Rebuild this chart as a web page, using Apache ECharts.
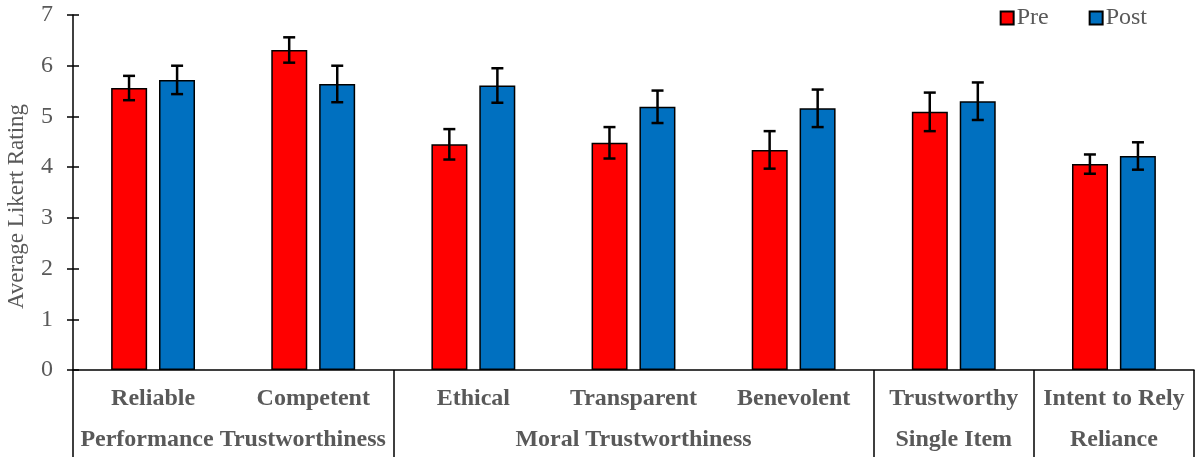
<!DOCTYPE html>
<html>
<head>
<meta charset="utf-8">
<script src="https://cdn.jsdelivr.net/npm/echarts@6/dist/echarts.min.js"></script>
<style>
  html, body { margin: 0; padding: 0; background: #fff; }
  #main { width: 1196px; height: 457px; }
</style>
</head>
<body>
<div id="main"></div>
<script>
const categories = ["Reliable", "Competent", "Ethical", "Transparent", "Benevolent", "Trustworthy", "Intent to Rely"];
const preValues = [5.56, 6.31, 4.45, 4.48, 4.34, 5.09, 4.06];
const postValues = [5.72, 5.64, 5.61, 5.19, 5.16, 5.30, 4.22];
const preErr = [0.24, 0.25, 0.30, 0.31, 0.37, 0.38, 0.19];
const postErr = [0.28, 0.36, 0.34, 0.32, 0.37, 0.37, 0.27];
const groupNames = ["Performance Trustworthiness", "Moral Trustworthiness", "Single Item", "Reliance"];
const groupBounds = [0, 2, 5, 6, 7];
const yTicks = [0, 1, 2, 3, 4, 5, 6, 7];

const FONT = "Liberation Serif";
const GREY = "#595959";

const chart = echarts.init(document.getElementById("main"));

// group label positions = middle of each span
const groupCenters = groupNames.map((n, i) => (groupBounds[i] + groupBounds[i + 1]) / 2);

function errItems(vals, errs) {
  return vals.map((v, i) => [i, v - errs[i], v + errs[i]]);
}

function errRender(side) {
  return function (params, api) {
    const i = api.value(0);
    const lo = api.coord([i, api.value(1)]);
    const hi = api.coord([i, api.value(2)]);
    const band = api.size([1, 0])[0];
    const x = lo[0] + side * band * 0.15;
    const cap = 6;
    const style = { stroke: "#000", lineWidth: 2.5 };
    return {
      type: "group",
      children: [
        { type: "line", shape: { x1: x, y1: lo[1], x2: x, y2: hi[1] }, style: style },
        { type: "line", shape: { x1: x - cap, y1: hi[1], x2: x + cap, y2: hi[1] }, style: style },
        { type: "line", shape: { x1: x - cap, y1: lo[1], x2: x + cap, y2: lo[1] }, style: style }
      ]
    };
  };
}

const option = {
  animation: false,
  textStyle: { fontFamily: FONT },
  grid: { left: 73, right: 2, top: 15, bottom: 87, outerBoundsMode: "none" },
  legend: {
    data: ["Pre", "Post"],
    right: 44,
    top: 1,
    icon: "rect",
    itemWidth: 13,
    itemHeight: 13,
    itemGap: 40,
    textStyle: { fontFamily: FONT, fontSize: 24, color: GREY, padding: [0, 0, 0, -2] }
  },
  xAxis: [
    {
      type: "category",
      data: categories,
      axisLine: { lineStyle: { color: "#000", width: 1.5 } },
      axisTick: { show: false },
      axisLabel: { fontFamily: FONT, fontSize: 24, fontWeight: "bold", color: GREY, margin: 17, interval: 0 }
    },
    {
      type: "value",
      position: "bottom",
      min: 0,
      max: categories.length,
      axisLine: { show: false },
      splitLine: { show: false },
      axisTick: {
        show: true,
        customValues: groupBounds,
        length: 87,
        lineStyle: { color: "#000", width: 1.5 }
      },
      axisLabel: {
        customValues: groupCenters,
        margin: 58,
        fontFamily: FONT,
        fontSize: 24,
        fontWeight: "bold",
        color: GREY,
        formatter: (v) => groupNames[groupCenters.indexOf(v)] || ""
      }
    }
  ],
  yAxis: [
    {
      type: "value",
      min: 0,
      max: 7,
      interval: 1,
      name: "Average Likert Rating",
      nameLocation: "middle",
      nameGap: 45,
      nameTextStyle: { fontFamily: FONT, fontSize: 23, color: GREY, padding: [0, 28, 0, 0] },
      axisLine: { show: true, lineStyle: { color: "#000", width: 1.5 } },
      axisTick: { show: true, length: 6, lineStyle: { color: "#000", width: 1.5 } },
      axisLabel: {
        fontFamily: FONT, fontSize: 24, color: GREY, margin: 20,
        formatter: (v) => (yTicks.indexOf(v) >= 0 ? String(v) : "")
      },
      splitLine: { show: false }
    },
    {
      type: "value",
      min: 0,
      max: 7,
      interval: 1,
      position: "left",
      axisLine: { show: false },
      axisTick: { show: true, inside: true, length: 6, lineStyle: { color: "#000", width: 1.5 } },
      axisLabel: { show: false },
      splitLine: { show: false }
    }
  ],
  series: [
    {
      name: "Pre",
      type: "bar",
      data: preValues,
      barWidth: 36,
      barGap: "33%",
      itemStyle: { color: "#FF0000", borderColor: "#000", borderWidth: 1.5 }
    },
    {
      name: "Post",
      type: "bar",
      data: postValues,
      barWidth: 36,
      itemStyle: { color: "#0070C0", borderColor: "#000", borderWidth: 1.5 }
    },
    {
      name: "PreErr",
      type: "custom",
      data: errItems(preValues, preErr),
      encode: { x: 0, y: [1, 2] },
      renderItem: errRender(-1),
      z: 10
    },
    {
      name: "PostErr",
      type: "custom",
      data: errItems(postValues, postErr),
      encode: { x: 0, y: [1, 2] },
      renderItem: errRender(1),
      z: 10
    }
  ]
};

chart.setOption(option);
</script>
</body>
</html>
